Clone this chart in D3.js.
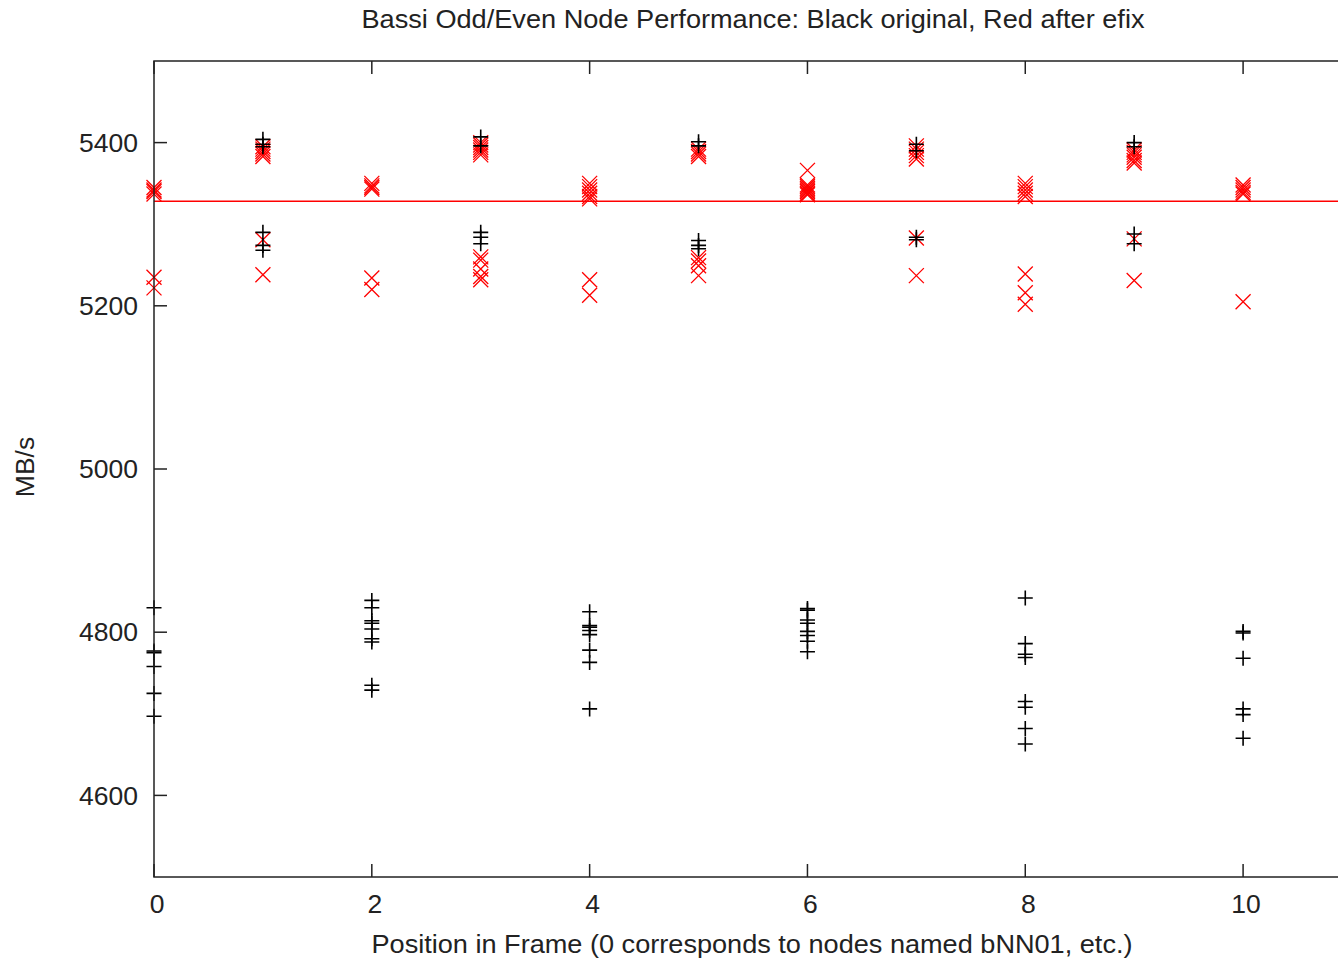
<!DOCTYPE html>
<html>
<head>
<meta charset="utf-8">
<script src="https://cdn.jsdelivr.net/npm/d3@7"></script>
<style>
	body { margin: 0; background: #fff; }
	svg { display: block; overflow: hidden; }
	text { font-family: "Liberation Sans", Arial, sans-serif; fill: #222; }
</style>
</head>
<body>
<svg id="chart" width="1338" height="963"></svg>
<script>
(function(){

	// positions in frame (0..10)
	var positions = [0, 1, 2, 3, 4, 5, 6, 7, 8, 9, 10];

	// black: original run, MB/s per node, grouped by position
	var blackValues = [
		[4830, 4777, 4775, 4758, 4725, 4697],
		[5404, 5398, 5395, 5290, 5274, 5268],
		[4839, 4830, 4814, 4811, 4804, 4792, 4788, 4735, 4729],
		[5407, 5396, 5290, 5284, 5276],
		[4825, 4808, 4806, 4802, 4797, 4778, 4763, 4706],
		[5401, 5396, 5280, 5274, 5270],
		[4829, 4827, 4815, 4811, 4801, 4796, 4789, 4776],
		[5398, 5390, 5284, 5281],
		[4842, 4786, 4773, 4769, 4715, 4708, 4682, 4663],
		[5400, 5395, 5288, 5276],
		[4801, 4799, 4768, 4706, 4699, 4670]
	];

	// red: after efix
	var redValues = [
		[5345, 5342, 5340, 5337, 5235, 5222],
		[5395, 5392, 5389, 5386, 5383, 5281, 5238],
		[5350, 5347, 5345, 5343, 5234, 5220],
		[5400, 5397, 5394, 5391, 5388, 5385, 5260, 5256, 5245, 5236, 5232],
		[5350, 5346, 5342, 5338, 5334, 5331, 5232, 5213],
		[5392, 5389, 5386, 5383, 5259, 5255, 5249, 5237],
		[5366, 5348, 5346, 5344, 5342, 5340, 5338, 5336],
		[5396, 5392, 5388, 5384, 5380, 5283, 5237],
		[5350, 5346, 5342, 5338, 5334, 5239, 5216, 5202],
		[5391, 5388, 5385, 5382, 5378, 5375, 5282, 5231],
		[5348, 5345, 5342, 5339, 5337, 5205]
	];

	var redMean = 5328;

	var xTicks = [0, 2, 4, 6, 8, 10];
	var yTicks = [4600, 4800, 5000, 5200, 5400];

	var margin = {top: 61, left: 154};
	var plotW = 1198, plotH = 816;
	var fontSize = "26.5px";

	var svg = d3.select("#chart");
	var g = svg.append("g")
		.attr("transform", "translate(" + margin.left + "," + margin.top + ")");

	var x = d3.scaleLinear().domain([0, 11]).range([0, plotW]);
	var y = d3.scaleLinear().domain([4500, 5500]).range([plotH, 0]);

	function flatten(groups){
		var out = [];
		groups.forEach(function(vals, i){
			vals.forEach(function(v){ out.push({pos: positions[i], val: v}); });
		});
		return out;
	}

	var tickLen = 13;

	// mirrored inward ticks, gnuplot style
	g.append("g").selectAll("line")
		.data(yTicks)
		.enter().append("line")
			.attr("x1", 0).attr("x2", tickLen)
			.attr("y1", function(d){ return y(d); })
			.attr("y2", function(d){ return y(d); });
	g.append("g").selectAll("line")
		.data(yTicks)
		.enter().append("line")
			.attr("x1", plotW).attr("x2", plotW - tickLen)
			.attr("y1", function(d){ return y(d); })
			.attr("y2", function(d){ return y(d); });
	g.append("g").selectAll("line")
		.data(xTicks)
		.enter().append("line")
			.attr("x1", function(d){ return x(d); })
			.attr("x2", function(d){ return x(d); })
			.attr("y1", plotH).attr("y2", plotH - tickLen);
	g.append("g").selectAll("line")
		.data(xTicks)
		.enter().append("line")
			.attr("x1", function(d){ return x(d); })
			.attr("x2", function(d){ return x(d); })
			.attr("y1", 0).attr("y2", tickLen);
	g.selectAll("line").attr("stroke", "#222").attr("stroke-width", 1.5);

	// tick labels
	g.append("g").selectAll("text")
		.data(yTicks)
		.enter().append("text")
			.attr("x", -16)
			.attr("y", function(d){ return y(d); })
			.attr("dy", "0.35em")
			.attr("text-anchor", "end")
			.style("font-size", fontSize)
			.text(function(d){ return d; });
	g.append("g").selectAll("text")
		.data(xTicks)
		.enter().append("text")
			.attr("x", function(d){ return x(d) + 3; })
			.attr("y", plotH + 36)
			.attr("text-anchor", "middle")
			.style("font-size", fontSize)
			.text(function(d){ return d; });

	// red reference line
	g.append("line")
		.attr("x1", 0).attr("x2", plotW)
		.attr("y1", y(redMean)).attr("y2", y(redMean))
		.attr("stroke", "#ff0000")
		.attr("stroke-width", 1.5);

	var s = 7.5;
	var plusPath = "M" + (-s) + ",0H" + s + "M0," + (-s) + "V" + s;
	var crossPath = "M" + (-s) + "," + (-s) + "L" + s + "," + s + "M" + (-s) + "," + s + "L" + s + "," + (-s);

	g.append("g").selectAll("path")
		.data(flatten(redValues))
		.enter().append("path")
			.attr("transform", function(d){ return "translate(" + x(d.pos) + "," + y(d.val) + ")"; })
			.attr("d", crossPath)
			.attr("fill", "none")
			.attr("stroke", "#ff0000")
			.attr("stroke-width", 1.3);

	g.append("g").selectAll("path")
		.data(flatten(blackValues))
		.enter().append("path")
			.attr("transform", function(d){ return "translate(" + x(d.pos) + "," + y(d.val) + ")"; })
			.attr("d", plusPath)
			.attr("fill", "none")
			.attr("stroke", "#000")
			.attr("stroke-width", 1.6);

	// frame
	g.append("rect")
		.attr("width", plotW)
		.attr("height", plotH)
		.attr("fill", "none")
		.attr("stroke", "#222")
		.attr("stroke-width", 1.5);

	svg.append("text")
		.attr("x", 753)
		.attr("y", 28)
		.attr("text-anchor", "middle")
		.attr("textLength", 783)
		.attr("lengthAdjust", "spacingAndGlyphs")
		.style("font-size", fontSize)
		.text("Bassi Odd/Even Node Performance: Black original, Red after efix");

	svg.append("text")
		.attr("x", 752)
		.attr("y", 953)
		.attr("text-anchor", "middle")
		.attr("textLength", 761)
		.attr("lengthAdjust", "spacingAndGlyphs")
		.style("font-size", fontSize)
		.text("Position in Frame (0 corresponds to nodes named bNN01, etc.)");

	svg.append("text")
		.attr("transform", "translate(34,467) rotate(-90)")
		.attr("text-anchor", "middle")
		.style("font-size", fontSize)
		.text("MB/s");

})();
</script>
</body>
</html>
